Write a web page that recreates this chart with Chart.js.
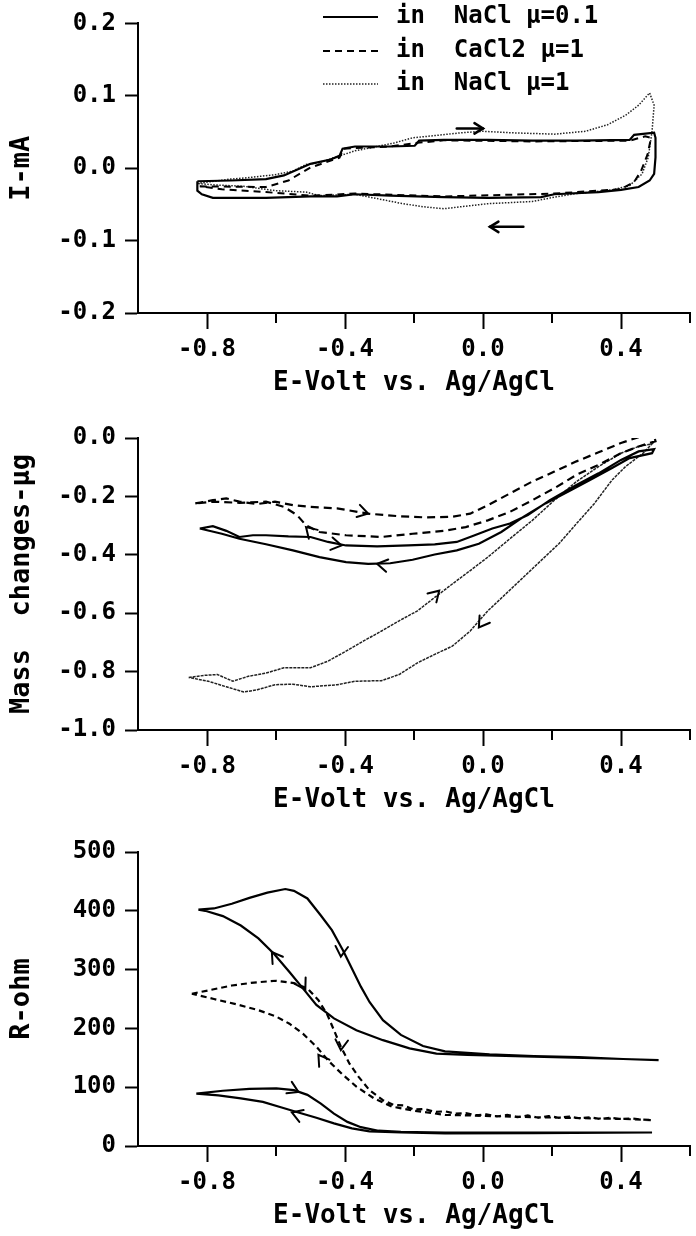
<!DOCTYPE html>
<html>
<head>
<meta charset="utf-8">
<script src="https://cdn.jsdelivr.net/npm/chart.js@4.4.0/dist/chart.umd.min.js"></script>
<style>
  body { margin: 0; background: #fff; }
  #wrap { position: relative; width: 696px; height: 1236px; overflow: hidden; }
  canvas { position: absolute; left: 0; }
</style>
</head>
<body>
<div id="wrap">
  <canvas id="cCurrent" width="696" height="410" style="top:0px"></canvas>
  <canvas id="cMass" width="696" height="415" style="top:410px"></canvas>
  <canvas id="cRes" width="696" height="411" style="top:825px"></canvas>
</div>
<script>
// series names and x axis ticks
const seriesLabels = ["in  NaCl \u03bc=0.1", "in  CaCl2 \u03bc=1", "in  NaCl \u03bc=1"];
const xTickLabels = [-0.8, -0.4, 0.0, 0.4];
const xMinorTicks = [-0.6, -0.2, 0.2, 0.6];

// top panel: current (mA) vs potential (V)
const curNaCl01E = [-0.828,-0.731,-0.629,-0.577,-0.500,-0.442,-0.416,-0.407,-0.371,-0.269,-0.198,-0.185,-0.114,0.014,0.143,0.271,0.425,0.438,0.496,0.500,0.500,0.496,0.483,0.451,0.400,0.335,0.207,0.168,0.014,-0.114,-0.269,-0.371,-0.423,-0.500,-0.629,-0.783,-0.815,-0.828,-0.828];
const curNaCl01I = [-0.018,-0.017,-0.015,-0.010,0.006,0.012,0.017,0.027,0.030,0.030,0.031,0.038,0.039,0.039,0.038,0.038,0.039,0.046,0.049,0.042,0.015,-0.008,-0.017,-0.026,-0.030,-0.033,-0.036,-0.040,-0.041,-0.040,-0.038,-0.036,-0.039,-0.039,-0.041,-0.041,-0.036,-0.031,-0.018];
const curCaCl2E = [-0.821,-0.629,-0.564,-0.500,-0.416,-0.404,-0.269,-0.190,-0.114,0.143,0.425,0.470,0.487,0.477,0.458,0.438,0.400,0.207,-0.114,-0.371,-0.500,-0.629,-0.757,-0.821];
const curCaCl2I = [-0.025,-0.026,-0.017,0.001,0.0145,0.027,0.030,0.035,0.0385,0.037,0.038,0.044,0.042,0.019,-0.004,-0.019,-0.029,-0.035,-0.039,-0.035,-0.038,-0.033,-0.029,-0.025];
const curNaCl1E = [-0.828,-0.731,-0.680,-0.603,-0.551,-0.513,-0.474,-0.371,-0.307,-0.256,-0.204,-0.140,-0.063,0.000,0.078,0.207,0.297,0.361,0.413,0.451,0.483,0.496,0.490,0.479,0.461,0.425,0.374,0.271,0.207,0.143,0.014,-0.114,-0.179,-0.243,-0.307,-0.371,-0.474,-0.513,-0.603,-0.693,-0.783,-0.828];
const curNaCl1I = [-0.021,-0.015,-0.013,-0.009,-0.004,0.005,0.008,0.024,0.030,0.035,0.042,0.045,0.049,0.051,0.049,0.047,0.051,0.060,0.073,0.087,0.104,0.087,0.051,0.015,-0.008,-0.024,-0.030,-0.035,-0.040,-0.046,-0.049,-0.056,-0.053,-0.048,-0.042,-0.036,-0.038,-0.033,-0.031,-0.025,-0.023,-0.021];
const curArrowFrom = [-0.076, 0.117];
const curArrowTo = [0.000, 0.020];
const curArrowI = [0.055, -0.081];

// middle panel: mass change (ug)
const massNaCl01E = [-0.821,-0.783,-0.744,-0.706,-0.667,-0.629,-0.564,-0.500,-0.449,-0.397,-0.307,-0.217,-0.140,-0.076,-0.024,0.027,0.078,0.130,0.194,0.271,0.335,0.400,0.451,0.496,0.490,0.425,0.374,0.310,0.246,0.181,0.117,0.053,-0.012,-0.076,-0.140,-0.204,-0.269,-0.333,-0.397,-0.474,-0.551,-0.629,-0.706,-0.757,-0.821];
const massNaCl01M = [-0.310,-0.302,-0.318,-0.339,-0.333,-0.333,-0.337,-0.339,-0.356,-0.368,-0.371,-0.368,-0.364,-0.356,-0.333,-0.310,-0.293,-0.264,-0.213,-0.161,-0.121,-0.075,-0.046,-0.038,-0.052,-0.069,-0.103,-0.144,-0.184,-0.224,-0.270,-0.322,-0.362,-0.385,-0.399,-0.417,-0.429,-0.431,-0.425,-0.408,-0.385,-0.364,-0.345,-0.328,-0.310];
const massCaCl2E = [-0.834,-0.783,-0.744,-0.706,-0.654,-0.603,-0.551,-0.500,-0.423,-0.333,-0.243,-0.166,-0.089,-0.037,0.014,0.078,0.143,0.207,0.271,0.335,0.400,0.451,0.496,0.500,0.451,0.400,0.335,0.271,0.207,0.143,0.078,0.014,-0.050,-0.114,-0.204,-0.294,-0.397,-0.474,-0.513,-0.539,-0.577,-0.629,-0.706,-0.783,-0.834];
const massCaCl2M = [-0.224,-0.213,-0.207,-0.218,-0.226,-0.218,-0.230,-0.236,-0.241,-0.259,-0.268,-0.272,-0.270,-0.259,-0.230,-0.190,-0.149,-0.115,-0.080,-0.049,-0.017,0.003,0.006,-0.011,-0.029,-0.052,-0.092,-0.126,-0.172,-0.213,-0.253,-0.282,-0.305,-0.318,-0.328,-0.339,-0.333,-0.322,-0.299,-0.264,-0.236,-0.218,-0.222,-0.218,-0.224];
const massNaCl1E = [-0.853,-0.808,-0.770,-0.725,-0.680,-0.629,-0.577,-0.500,-0.449,-0.397,-0.346,-0.294,-0.243,-0.190,-0.140,-0.089,-0.037,0.014,0.078,0.143,0.207,0.271,0.335,0.400,0.451,0.490,
  0.464,0.413,0.374,0.323,0.271,0.220,0.168,0.117,0.066,0.014,-0.037,-0.089,-0.140,-0.190,-0.243,-0.294,-0.371,-0.423,-0.500,-0.551,-0.603,-0.654,-0.693,-0.744,-0.796,-0.853];
const massNaCl1M = [-0.820,-0.813,-0.810,-0.833,-0.816,-0.805,-0.787,-0.787,-0.764,-0.730,-0.695,-0.661,-0.626,-0.592,-0.546,-0.500,-0.454,-0.408,-0.345,-0.282,-0.213,-0.149,-0.098,-0.052,-0.029,-0.020,
  -0.052,-0.098,-0.144,-0.224,-0.293,-0.362,-0.420,-0.477,-0.534,-0.592,-0.661,-0.713,-0.741,-0.770,-0.810,-0.831,-0.833,-0.845,-0.852,-0.843,-0.845,-0.862,-0.870,-0.852,-0.833,-0.820];
const massArrowE = [-0.333, -0.513, -0.410, -0.307, -0.127, -0.012];
const massArrowM = [-0.259, -0.305, -0.368, -0.431, -0.523, -0.649];
const massArrowDir = [15, 225, 10, 190, 315, 125];

// bottom panel: resistance (ohm)
const resNaCl01E = [-0.825,-0.780,-0.728,-0.677,-0.625,-0.573,-0.548,-0.509,-0.470,-0.438,-0.406,-0.380,-0.354,-0.329,-0.290,-0.238,-0.174,-0.110,0.019,0.148,0.277,0.406,0.509,
  0.406,0.148,-0.045,-0.135,-0.213,-0.290,-0.367,-0.432,-0.483,-0.522,-0.561,-0.606,-0.651,-0.702,-0.754,-0.805,-0.825];
const resNaCl01R = [402,404,412,422,431,437,434,421,392,367,333,302,271,245,214,189,170,161,156,153,151,148,146,
  148,152,155,157,166,180,197,217,240,268,296,327,353,375,391,400,402];
const resCaCl2E = [-0.844,-0.793,-0.728,-0.664,-0.599,-0.548,-0.509,-0.477,-0.451,-0.432,-0.412,-0.387,-0.361,-0.329,
  -0.290,-0.260,-0.230,-0.200,-0.170,-0.140,-0.110,-0.080,-0.050,-0.020,0.010,0.040,0.070,0.100,0.130,0.160,0.190,0.220,0.250,0.280,0.310,0.340,0.370,0.400,0.430,0.460,0.490,
  0.406,0.148,-0.110,-0.200,-0.264,-0.316,-0.367,-0.406,-0.445,-0.483,-0.522,-0.561,-0.599,-0.651,-0.715,-0.780,-0.844];
const resCaCl2R = [259,265,273,278,281,277,268,248,223,197,169,140,118,95,
  78,70,69,62,63,58,59,55,56,52,54,50,53,49,52,48,51,48,50,47,49,46,48,46,47,45,44,
  46,49,53,60,67,81,101,121,143,169,191,208,220,231,241,250,259];
const resNaCl1E = [-0.831,-0.754,-0.677,-0.599,-0.548,-0.509,-0.470,-0.432,-0.393,-0.354,-0.303,-0.238,-0.110,0.148,0.490,
  0.148,-0.110,-0.238,-0.329,-0.380,-0.432,-0.483,-0.535,-0.586,-0.638,-0.702,-0.767,-0.831];
const resNaCl1R = [89,94,97,98,95,87,72,55,41,32,26,24,23,23,23,
  22,21.5,23,25,30,38.5,48,57,66,75,81,86,89];
const resArrowE = [-0.412, -0.612, -0.515, -0.412, -0.477, -0.535, -0.554];
const resArrowR = [322, 330, 266, 163, 155, 92, 57];
const resArrowDir = [95, 235, 60, 95, 235, 25, 200];

// ---- helpers ----
Chart.defaults.font.family = "'DejaVu Sans Mono', monospace";
Chart.defaults.color = '#000';
const tickFont = { size: 24, weight: 'bold' };
const xTitleFont = { size: 26, weight: 'bold' };
const yTitleFont = { size: 27, weight: 'bold' };

function pts(xs, ys) {
  return xs.map((x, i) => ({ x: x, y: ys[i] }));
}
function isMajor(v) {
  return xTickLabels.some(l => Math.abs(l - v) < 1e-6);
}
function fmt1(v) {
  if (Math.abs(v) < 1e-9) return '0.0';
  return v.toFixed(1);
}
function line(label, xs, ys, dash, width, color) {
  return {
    label: label, data: pts(xs, ys), showLine: true, fill: false,
    borderColor: color || '#000', borderWidth: width, borderDash: dash,
    pointRadius: 0, tension: 0
  };
}

const minorTicks = {
  id: 'minorTicks',
  afterDraw(chart) {
    const sx = chart.scales.x, ctx = chart.ctx, y0 = chart.chartArea.bottom;
    ctx.save();
    ctx.strokeStyle = '#000';
    ctx.lineWidth = 2;
    xMinorTicks.forEach(v => {
      const px = sx.getPixelForValue(v);
      ctx.beginPath(); ctx.moveTo(px, y0); ctx.lineTo(px, y0 + 10); ctx.stroke();
    });
    ctx.restore();
  }
};

const arrowSets = {};
const arrowHeads = {
  id: 'arrowHeads',
  afterDatasetsDraw(chart) {
    const set = arrowSets[chart.canvas.id];
    if (!set) return;
    const sx = chart.scales.x, sy = chart.scales.y, ctx = chart.ctx;
    ctx.save();
    ctx.strokeStyle = '#000';
    ctx.lineWidth = 2;
    ctx.lineCap = 'round';
    const head = (px, py, a, len) => {
      ctx.beginPath();
      ctx.moveTo(px - len * Math.cos(a - 0.55), py - len * Math.sin(a - 0.55));
      ctx.lineTo(px, py);
      ctx.lineTo(px - len * Math.cos(a + 0.55), py - len * Math.sin(a + 0.55));
      ctx.stroke();
    };
    if (set.from) {
      set.from.forEach((e0, i) => {
        const x0 = sx.getPixelForValue(e0), x1 = sx.getPixelForValue(set.to[i]);
        const py = sy.getPixelForValue(set.y[i]);
        ctx.lineWidth = 2.5;
        ctx.beginPath(); ctx.moveTo(x0, py); ctx.lineTo(x1, py); ctx.stroke();
        head(x1, py, x1 > x0 ? 0 : Math.PI, 10);
      });
    } else {
      set.x.forEach((e, i) => {
        head(sx.getPixelForValue(e), sy.getPixelForValue(set.y[i]), set.dir[i] * Math.PI / 180, 12);
      });
    }
    ctx.restore();
  }
};

const cornerLegend = {
  id: 'cornerLegend',
  afterDraw(chart) {
    const ctx = chart.ctx;
    const rows = [17, 51, 84];
    ctx.save();
    chart.data.datasets.forEach((ds, i) => {
      ctx.beginPath();
      ctx.setLineDash(ds.borderDash || []);
      ctx.lineWidth = ds.borderWidth;
      ctx.strokeStyle = ds.borderColor;
      ctx.moveTo(323, rows[i]); ctx.lineTo(378, rows[i]); ctx.stroke();
      ctx.setLineDash([]);
      ctx.fillStyle = '#000';
      ctx.font = "bold 24px 'DejaVu Sans Mono'";
      ctx.textBaseline = 'middle';
      ctx.fillText(ds.label, 396, rows[i]);
    });
    ctx.restore();
  }
};

function makeChart(id, datasets, y, padding, extraPlugins) {
  return new Chart(document.getElementById(id), {
    type: 'scatter',
    data: { datasets: datasets },
    plugins: [minorTicks, arrowHeads].concat(extraPlugins || []),
    options: {
      responsive: false,
      animation: false,
      layout: { padding: padding },
      plugins: { legend: { display: false }, tooltip: { enabled: false } },
      scales: {
        x: {
          type: 'linear', min: -1.0, max: 0.6,
          afterFit: s => { s.height = 86; },
          border: { display: true, color: '#000', width: 2 },
          grid: {
            drawOnChartArea: false, tickLength: 16, tickWidth: 2,
            tickColor: c => (c.tick && isMajor(c.tick.value)) ? '#000' : 'rgba(0,0,0,0)'
          },
          ticks: {
            stepSize: 0.2, autoSkip: false, maxRotation: 0, padding: 6, font: tickFont, color: '#000',
            callback: v => isMajor(v) ? fmt1(v) : ''
          },
          title: { display: true, text: 'E-Volt vs. Ag/AgCl', font: xTitleFont, color: '#000', padding: { top: 0, bottom: 0 } }
        },
        y: {
          type: 'linear', min: y.min, max: y.max,
          afterFit: s => { s.width = 138; },
          border: { display: true, color: '#000', width: 2 },
          grid: { drawOnChartArea: false, tickLength: 13, tickWidth: 2, tickColor: '#000' },
          ticks: { stepSize: y.step, padding: 9, font: tickFont, color: '#000', callback: y.fmt },
          title: { display: true, text: y.title, font: yTitleFont, color: '#000', padding: { top: 6, bottom: 0 } }
        }
      }
    }
  });
}

arrowSets.cCurrent = { from: curArrowFrom, to: curArrowTo, y: curArrowI };
arrowSets.cMass = { x: massArrowE, y: massArrowM, dir: massArrowDir };
arrowSets.cRes = { x: resArrowE, y: resArrowR, dir: resArrowDir };

makeChart('cCurrent', [
  line(seriesLabels[0], curNaCl01E, curNaCl01I, [], 2.2),
  line(seriesLabels[1], curCaCl2E, curCaCl2I, [7, 5], 2),
  line(seriesLabels[2], curNaCl1E, curNaCl1I, [1.5, 1.5], 1.5, '#222')
], { min: -0.2, max: 0.2, step: 0.1, title: 'I-mA', fmt: fmt1 },
  { top: 17, left: 0, right: 4, bottom: 11 }, [cornerLegend]);

makeChart('cMass', [
  line(seriesLabels[0], massNaCl01E, massNaCl01M, [], 2.2),
  line(seriesLabels[1], massCaCl2E, massCaCl2M, [8, 5], 2.2),
  line(seriesLabels[2], massNaCl1E, massNaCl1M, [3, 1], 1.5, '#222')
], { min: -1.0, max: 0.0, step: 0.2, title: 'Mass  changes-\u03bcg', fmt: fmt1 },
  { top: 28, left: 0, right: 4, bottom: 9 });

makeChart('cRes', [
  line(seriesLabels[0], resNaCl01E, resNaCl01R, [], 2.2),
  line(seriesLabels[1], resCaCl2E, resCaCl2R, [6, 4], 2.2),
  line(seriesLabels[2], resNaCl1E, resNaCl1R, [], 2.2)
], { min: 0, max: 500, step: 100, title: 'R-ohm', fmt: v => String(v) },
  { top: 27, left: 0, right: 4, bottom: 4 });
</script>
</body>
</html>
